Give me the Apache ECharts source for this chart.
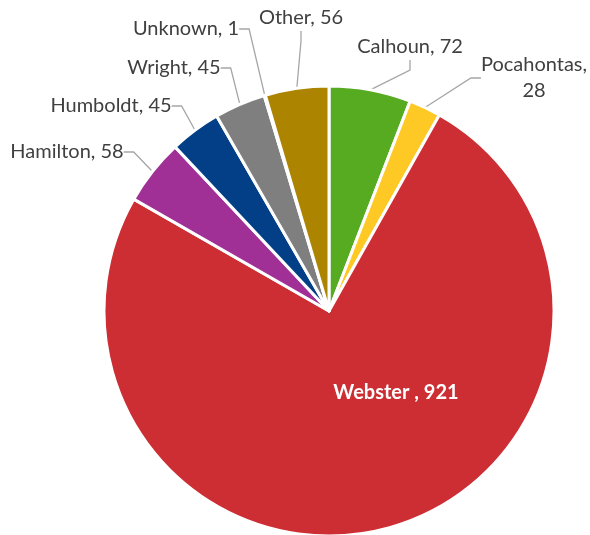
<!DOCTYPE html>
<html>
<head>
<meta charset="utf-8">
<script src="https://cdn.jsdelivr.net/npm/echarts@6/dist/echarts.min.js"></script>
<style>
html, body { margin: 0; padding: 0; background: #fff; }
#main { width: 590px; height: 535px; }
</style>
</head>
<body>
<div id="main"></div>
<script>
var names = ['Calhoun', 'Pocahontas', 'Webster', 'Hamilton', 'Humboldt', 'Wright', 'Unknown', 'Other'];
var counts = [72, 28, 921, 58, 45, 45, 1, 56];
var colors = ['#56AB21', '#FFC925', '#CC2E33', '#A02F96', '#023F87', '#7F7F7F', '#5B9BD5', '#AD8400'];

// label centres, as Excel placed them
var labelSpots = {
	Calhoun: [410, 47],
	Pocahontas: [534, 78],
	Webster: [396, 393],
	Hamilton: [67, 152],
	Humboldt: [111, 106],
	Wright: [174, 68],
	Unknown: [186, 29],
	Other: [301, 18]
};

var dom = document.getElementById("main");
var myChart = echarts.init(dom);

var data = names.map(function(n, i) {
	var item = {
		name: n,
		value: counts[i],
		itemStyle: { color: colors[i] }
	};
	if(n === 'Webster') {
		item.label = {
			position: 'inside',
			color: '#fff',
			fontWeight: 'bold',
			fontSize: 20,
			formatter: '{b} , {c}'
		};
	}
	if(n === 'Pocahontas') {
		item.label = { formatter: '{b},\n{c}', align: 'center' };
	}
	return item;
});

var option = {
	animation: false,
	series: [{
		type: 'pie',
		center: [329, 311],
		radius: 225,
		startAngle: 90,
		clockwise: true,
		avoidLabelOverlap: false,
		itemStyle: {
			borderColor: '#fff',
			borderWidth: 3
		},
		label: {
			show: true,
			position: 'outside',
			formatter: '{b}, {c}',
			color: '#404040',
			fontSize: 20,
			lineHeight: 26,
			fontFamily: 'Lato, sans-serif'
		},
		labelLine: {
			show: true,
			length: 15,
			length2: 10,
			lineStyle: { color: '#A6A6A6', width: 1.3 }
		},
		labelLayout: function(params) {
			var p = labelSpots[names[params.dataIndex]];
			return {
				x: p[0],
				y: p[1],
				align: 'center',
				verticalAlign: 'middle'
			};
		},
		data: data
	}]
};

if(option && typeof option === "object") {
	myChart.setOption(option, true);
}
</script>
</body>
</html>
